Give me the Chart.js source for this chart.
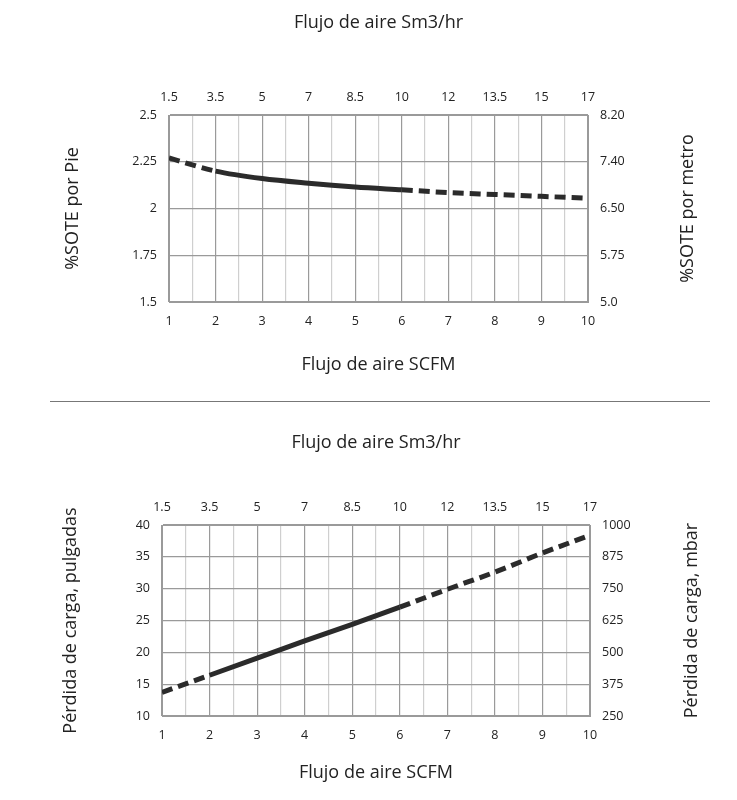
<!DOCTYPE html>
<html>
<head>
<meta charset="utf-8">
<script src="https://cdn.jsdelivr.net/npm/chart.js@4"></script>
<style>
  body { margin: 0; background: #fff; }
  .box { position: relative; width: 737px; height: 400px; }
  .sep { position: absolute; left: 50px; top: 401px; width: 660px; height: 1px; background: #777; }
</style>
</head>
<body>
<div class="box"><canvas id="sote"></canvas></div>
<div class="sep"></div>
<div class="box"><canvas id="perdida"></canvas></div>
<script>
const scfm = [1, 2, 3, 4, 5, 6, 7, 8, 9, 10];
const sm3hr = ['1.5', '3.5', '5', '7', '8.5', '10', '12', '13.5', '15', '17'];
const sotePie = [2.27, 2.20, 2.16, 2.135, 2.115, 2.10, 2.085, 2.075, 2.065, 2.055];
const soteMetro = ['5.0', '5.75', '6.50', '7.40', '8.20'];
const perdidaPulg = [13.7, 16.4, 19.1, 21.8, 24.4, 27.1, 29.9, 32.6, 35.6, 38.4];
const perdidaMbar = ['250', '375', '500', '625', '750', '875', '1000'];

const tickFont = { family: 'Open Sans', size: 12.5 };
const titleFont = { family: 'Open Sans', size: 18 };

// right-hand axis title, read bottom to top like the left one
const rightTitlePlugin = {
  id: 'rightTitle',
  afterDraw(chart, args, opts) {
    const c = chart.ctx, a = chart.chartArea;
    c.save();
    c.translate(opts.x, (a.top + a.bottom) / 2);
    c.rotate(-Math.PI / 2);
    c.font = '18px "Open Sans"';
    c.fillStyle = '#222';
    c.textAlign = 'center';
    c.textBaseline = 'middle';
    c.fillText(opts.text, 0, 0);
    c.restore();
  }
};

function makeChart(id, vals, yMin, yMax, yStep, rightLabels, leftTitle, rightTitle, g) {
  const dashed = ctx => (ctx.p0DataIndex < 1 || ctx.p0DataIndex >= 5) ? [11, 6] : undefined;
  return new Chart(document.getElementById(id), {
    type: 'line',
    data: {
      datasets: [{
        data: scfm.map((x, i) => ({ x: x, y: vals[i] })),
        borderColor: '#2b2b2b',
        borderWidth: 5,
        pointRadius: 0,
        cubicInterpolationMode: 'monotone',
        segment: { borderDash: dashed }
      }]
    },
    plugins: [rightTitlePlugin],
    options: {
      responsive: true,
      maintainAspectRatio: false,
      animation: false,
      layout: { padding: { left: g.padL, right: g.padR, bottom: g.padB, top: 0 } },
      plugins: {
        legend: { display: false }, tooltip: { enabled: false },
        rightTitle: { text: rightTitle, x: g.rightX }
      },
      scales: {
        x: {
          type: 'linear', position: 'bottom', min: 1, max: 10,
          ticks: {
            stepSize: 0.5, color: '#222', font: tickFont, padding: 12, maxRotation: 0,
            callback: v => Number.isInteger(v) ? v : ''
          },
          grid: {
            drawTicks: false,
            color: c => Number.isInteger(c.tick.value) ? '#9a9a9a' : '#cfcfcf',
            lineWidth: 1.2
          },
          border: { color: '#9a9a9a' },
          title: { display: true, text: 'Flujo de aire SCFM', font: titleFont, color: '#222', padding: 4 },
          afterFit: s => { s.height = g.botH; }
        },
        xTop: {
          type: 'linear', position: 'top', min: 1, max: 10,
          ticks: {
            stepSize: 1, color: '#222', font: tickFont, padding: 10, maxRotation: 0,
            callback: (v, i) => sm3hr[i]
          },
          grid: { display: false, drawTicks: false },
          border: { color: '#9a9a9a' },
          title: { display: true, text: 'Flujo de aire Sm3/hr', font: titleFont, color: '#222', padding: { top: g.titleTop, bottom: 0 } },
          afterFit: s => { s.height = g.topH; }
        },
        y: {
          position: 'left', min: yMin, max: yMax,
          ticks: { stepSize: yStep, color: '#222', font: tickFont, padding: 12, callback: v => String(v) },
          grid: { color: '#9a9a9a', lineWidth: 1.2, drawTicks: false },
          border: { color: '#9a9a9a' },
          title: { display: true, text: leftTitle, font: titleFont, color: '#222', padding: 4 },
          afterFit: s => { s.width = g.leftW; }
        },
        yRight: {
          position: 'right', min: yMin, max: yMax,
          ticks: { stepSize: yStep, color: '#222', font: tickFont, padding: 12, callback: (v, i) => rightLabels[i] },
          grid: { display: false, drawTicks: false },
          border: { color: '#9a9a9a' },
          afterFit: s => { s.width = g.rightW; }
        }
      }
    }
  });
}

makeChart('sote', sotePie, 1.5, 2.5, 0.25, soteMetro, '%SOTE por Pie', '%SOTE por metro',
  { padL: 58, padR: 35, padB: 20, leftW: 111, rightW: 114, topH: 115, botH: 78, titleTop: 12, rightX: 688 });

makeChart('perdida', perdidaPulg, 10, 40, 5, perdidaMbar, 'Pérdida de carga, pulgadas', 'Pérdida de carga, mbar',
  { padL: 56, padR: 30, padB: 12, leftW: 106, rightW: 117, topH: 125, botH: 72, titleTop: 32, rightX: 692 });
</script>
</body>
</html>
